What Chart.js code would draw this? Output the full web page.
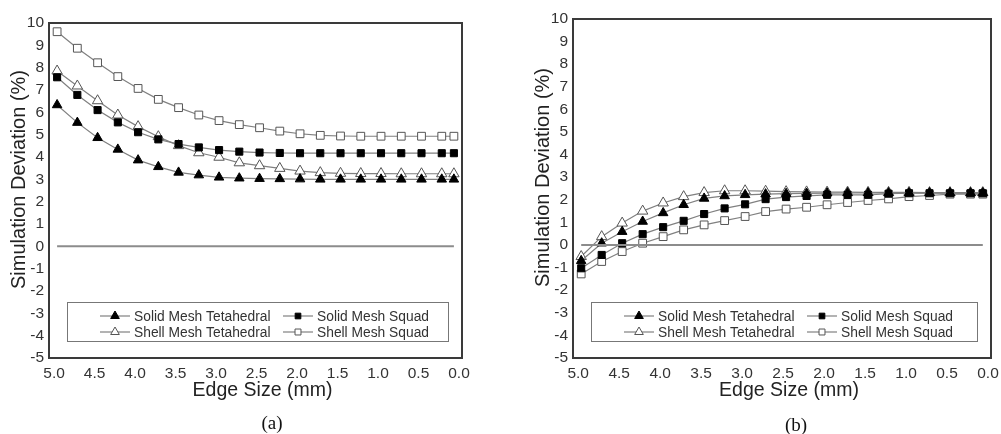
<!DOCTYPE html>
<html>
<head>
<meta charset="utf-8">
<script src="https://cdn.jsdelivr.net/npm/chart.js@4.4.1/dist/chart.umd.min.js"></script>
<style>
  html, body { margin: 0; padding: 0; background: #fff; overflow: hidden; }
  #wrap { position: relative; width: 1001px; height: 434px; overflow: hidden; }
  canvas { position: absolute; top: 0; }
  #chartA { left: 0; }
  #chartB { left: 490px; }
  .cap {
    position: absolute;
    font-family: "Liberation Serif", "DejaVu Serif", serif;
    font-size: 19px;
    color: #111;
    transform: translateX(-50%);
    line-height: 22px;
  }
</style>
</head>
<body>
<div id="wrap">
  <canvas id="chartA" width="490" height="434"></canvas>
  <canvas id="chartB" width="530" height="434"></canvas>
  <div class="cap" style="left:272px; top:412px">(a)</div>
  <div class="cap" style="left:796px; top:414px">(b)</div>
</div>
<script>
// edge sizes (mm)
const edgeSize = [5.0, 4.75, 4.5, 4.25, 4.0, 3.75, 3.5, 3.25, 3.0, 2.75, 2.5,
  2.25, 2.0, 1.75, 1.5, 1.25, 1.0, 0.75, 0.5, 0.25, 0.1];
const xTickValues = [0, 0.5, 1.0, 1.5, 2.0, 2.5, 3.0, 3.5, 4.0, 4.5, 5.0];
const seriesNames = ["Solid Mesh Tetahedral", "Solid Mesh Squad",
  "Shell Mesh Tetahedral", "Shell Mesh Squad"];
const xTitle = "Edge Size (mm)";
const yTitle = "Simulation Deviation (%)";

// panel (a)
const solidTetA = [6.33, 5.54, 4.86, 4.34, 3.86, 3.56, 3.31, 3.19, 3.09, 3.05, 3.03,
  3.02, 3.01, 3.0, 3.0, 3.0, 3.0, 3.0, 3.0, 3.0, 3.0];
const solidSquadA = [7.57, 6.78, 6.10, 5.55, 5.11, 4.79, 4.58, 4.43, 4.31, 4.24, 4.20,
  4.18, 4.17, 4.17, 4.17, 4.17, 4.17, 4.17, 4.17, 4.17, 4.17];
const shellTetA = [7.85, 7.18, 6.52, 5.88, 5.36, 4.91, 4.51, 4.19, 3.99, 3.74, 3.61,
  3.49, 3.37, 3.30, 3.27, 3.26, 3.26, 3.25, 3.25, 3.25, 3.25];
const shellSquadA = [9.61, 8.87, 8.22, 7.60, 7.07, 6.58, 6.21, 5.88, 5.63, 5.45, 5.31,
  5.16, 5.04, 4.97, 4.94, 4.93, 4.93, 4.93, 4.93, 4.93, 4.93];

// panel (b)
const solidTetB = [-0.70, 0.08, 0.59, 1.04, 1.42, 1.78, 2.06, 2.17, 2.22, 2.25, 2.27,
  2.28, 2.29, 2.30, 2.30, 2.30, 2.30, 2.30, 2.30, 2.30, 2.30];
const solidSquadB = [-1.03, -0.44, 0.08, 0.48, 0.79, 1.07, 1.37, 1.62, 1.80, 2.03, 2.12,
  2.17, 2.22, 2.22, 2.22, 2.27, 2.29, 2.29, 2.29, 2.29, 2.29];
const shellTetB = [-0.51, 0.37, 0.97, 1.50, 1.86, 2.14, 2.32, 2.40, 2.40, 2.38, 2.36,
  2.35, 2.34, 2.34, 2.33, 2.33, 2.33, 2.32, 2.32, 2.32, 2.32];
const shellSquadB = [-1.28, -0.73, -0.29, 0.08, 0.37, 0.67, 0.89, 1.08, 1.26, 1.48, 1.59,
  1.67, 1.78, 1.88, 1.97, 2.04, 2.14, 2.19, 2.25, 2.25, 2.25];

const FONT = '"Liberation Sans", Arial, sans-serif';
const LINE_GRAY = "#808080";
const OPEN_EDGE = "#555";

// marker look per series: solid = black fill, shell = open
const markerStyles = [
  { pointStyle: "triangle", fill: "#000", edge: "#000", r: 5.5, lr: 5 },
  { pointStyle: "rect", fill: "#000", edge: "#000", r: 5, lr: 4 },
  { pointStyle: "triangle", fill: "#fff", edge: OPEN_EDGE, r: 6, lr: 5 },
  { pointStyle: "rect", fill: "#fff", edge: OPEN_EDGE, r: 5.5, lr: 4.2 },
];

function toPoints(values) {
  return edgeSize.map((x, i) => ({ x, y: values[i] }));
}

function buildDatasets(seriesValues) {
  const sets = seriesValues.map((vals, i) => {
    const m = markerStyles[i];
    return {
      label: seriesNames[i],
      data: toPoints(vals),
      borderColor: LINE_GRAY,
      borderWidth: 1.2,
      pointStyle: m.pointStyle,
      pointRadius: m.r,
      pointBackgroundColor: m.fill,
      pointBorderColor: m.edge,
      pointBorderWidth: 1,
      tension: 0,
    };
  });
  // horizontal zero line across the data range
  sets.unshift({
    label: "zero",
    isRef: true,
    data: toPoints(edgeSize.map(() => 0)),
    borderColor: "#8c8c8c",
    borderWidth: 2,
    pointRadius: 0,
  });
  return sets;
}

// frame, axis titles and the boxed legend inside the plot
const panelDecor = {
  id: "panelDecor",
  afterDraw(chart) {
    const { ctx, chartArea: a } = chart;
    ctx.save();

    ctx.strokeStyle = "#3a3a3a";
    ctx.lineWidth = 2;
    ctx.strokeRect(a.left, a.top, a.right - a.left, a.bottom - a.top);

    ctx.fillStyle = "#222";
    ctx.textAlign = "center";
    ctx.textBaseline = "middle";
    ctx.font = "19.5px " + FONT;
    ctx.fillText(xTitle, (a.left + a.right) / 2 + 7, a.bottom + 33);
    ctx.save();
    ctx.translate(a.left - 30, (a.top + a.bottom) / 2 - 11);
    ctx.rotate(-Math.PI / 2);
    ctx.font = "20px " + FONT;
    ctx.fillText(yTitle, 0, 0);
    ctx.restore();

    // legend box
    const bx = a.left + 18;
    const bw = a.right - 14 - bx;
    const by = a.bottom - 56;
    const bh = 39;
    ctx.fillStyle = "#fff";
    ctx.fillRect(bx, by, bw, bh);
    ctx.strokeStyle = "#777";
    ctx.lineWidth = 1;
    ctx.strokeRect(bx + 0.5, by + 0.5, bw, bh);

    const cols = [bx + 48, bx + 231];
    const rows = [by + 14, by + 30];
    ctx.font = "13.8px " + FONT;
    ctx.textAlign = "left";
    chart.data.datasets.filter(d => !d.isRef).forEach((ds, i) => {
      const m = markerStyles[i];
      const cx = cols[i % 2];
      const cy = rows[Math.floor(i / 2)];
      ctx.strokeStyle = LINE_GRAY;
      ctx.lineWidth = 1.2;
      ctx.beginPath();
      ctx.moveTo(cx - 15, cy);
      ctx.lineTo(cx + 15, cy);
      ctx.stroke();
      ctx.fillStyle = m.fill;
      ctx.strokeStyle = m.edge;
      ctx.lineWidth = 1;
      Chart.helpers.drawPoint(ctx, { pointStyle: m.pointStyle, radius: m.lr, borderWidth: 1, rotation: 0 }, cx, cy);
      ctx.fillStyle = "#333";
      ctx.fillText(ds.label, cx + 19, cy + 1);
    });

    ctx.restore();
  },
};

function makePanel(canvasId, seriesValues, pad, yWidth) {
  const ctx = document.getElementById(canvasId).getContext("2d");
  return new Chart(ctx, {
    type: "line",
    data: { datasets: buildDatasets(seriesValues) },
    options: {
      responsive: false,
      animation: false,
      layout: { padding: pad },
      plugins: { legend: { display: false }, tooltip: { enabled: false } },
      scales: {
        x: {
          type: "linear",
          reverse: true,
          min: 0,
          max: 5.1,
          afterBuildTicks: (s) => { s.ticks = xTickValues.map(v => ({ value: v })); },
          afterFit: (s) => { s.height = 76; },
          grid: { display: false, drawTicks: false },
          border: { display: false },
          ticks: {
            autoSkip: false,
            maxRotation: 0,
            padding: 6,
            labelOffset: -3,
            color: "#333",
            font: { family: FONT, size: 15.5 },
            callback: (v) => Number(v).toFixed(1),
          },
        },
        y: {
          min: -5,
          max: 10,
          afterFit: (s) => { s.width = yWidth; },
          grid: { display: false, drawTicks: false },
          border: { display: false },
          ticks: {
            stepSize: 1,
            padding: 5,
            color: "#333",
            font: { family: FONT, size: 15.5 },
          },
        },
      },
    },
    plugins: [panelDecor],
  });
}

makePanel("chartA", [solidTetA, solidSquadA, shellTetA, shellSquadA],
  { top: 23, right: 28, bottom: 0, left: 0 }, 49);
makePanel("chartB", [solidTetB, solidSquadB, shellTetB, shellSquadB],
  { top: 19, right: 29, bottom: 0, left: 0 }, 83);
</script>
</body>
</html>
